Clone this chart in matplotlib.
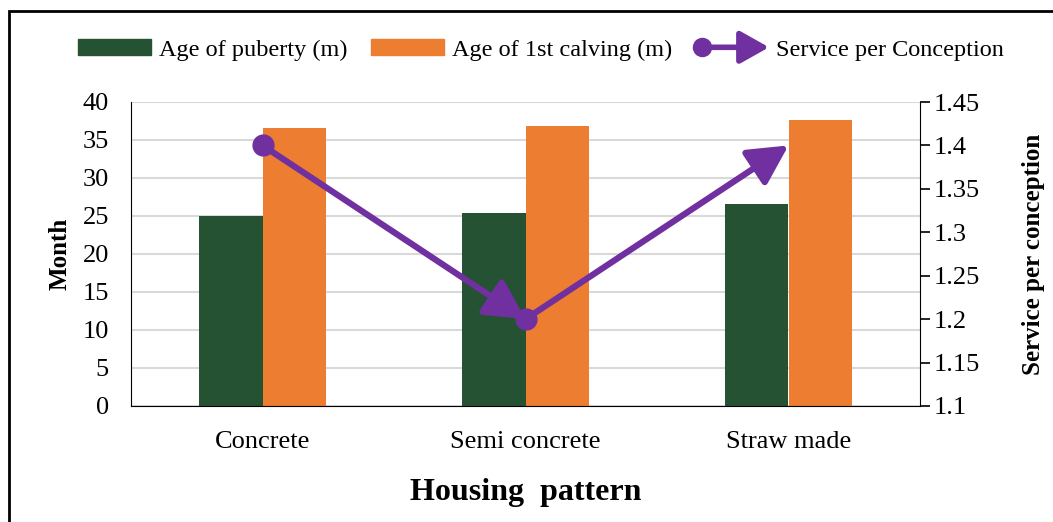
import matplotlib.pyplot as plt
import numpy as np
from matplotlib.patches import Rectangle, Patch, FancyArrowPatch
from matplotlib.lines import Line2D
from matplotlib.legend_handler import HandlerBase

plt.rcParams['font.family'] = ['Liberation Serif', 'DejaVu Serif']

# data
housing = ["Concrete", "Semi concrete", "Straw made"]
age_puberty = [25.0, 25.4, 26.6]
age_calving = [36.6, 36.8, 37.6]
service_conception = [1.4, 1.2, 1.4]

green = '#245233'
orange = '#ED7D31'
purple = '#7030A0'


class ArrowHandler(HandlerBase):
    # circle at the left, arrow head at the right, like the excel line
    def create_artists(self, legend, orig_handle, xdescent, ydescent,
                       width, height, fontsize, trans):
        y = height / 2 - ydescent
        x0 = -xdescent + 4
        x1 = -xdescent + width
        arr = FancyArrowPatch((x0, y), (x1, y), arrowstyle='-|>,head_length=0.8,head_width=0.45',
                              mutation_scale=22, color=purple, lw=4,
                              shrinkA=0, shrinkB=0, transform=trans)
        dot = Line2D([x0], [y], marker='o', markersize=13, color=purple,
                     linestyle='none', transform=trans)
        return [arr, dot]


fig = plt.figure(figsize=(10.53, 5.22), dpi=100)
ax = fig.add_axes([131 / 1053, 1 - 406 / 522, (920 - 131) / 1053, (406 - 102) / 522])
ax2 = ax.twinx()

x = np.arange(len(housing))
w = 0.24
ax.bar(x - w / 2, age_puberty, w, color=green, zorder=2)
ax.bar(x + w / 2, age_calving, w, color=orange, zorder=2)

ax.set_xlim(-0.5, 2.5)
ax.set_ylim(0, 40)
ax.set_yticks(np.arange(0, 41, 5))
ax.yaxis.grid(True, color='#d9d9d9', lw=1.5, zorder=0)
ax.set_axisbelow(True)
ax.set_xticks(x)
ax.set_xticklabels(housing)
ax.tick_params(axis='both', length=0, labelsize=19, pad=16)
ax.tick_params(axis='x', pad=18)
for s in ['top', 'right']:
    ax.spines[s].set_visible(False)
ax.spines['left'].set_color('black')
ax.spines['bottom'].set_color('black')
ax.set_ylabel('Month', fontsize=18, fontweight='bold', labelpad=8)
ax.set_xlabel('Housing  pattern', fontsize=23, fontweight='bold', labelpad=18)

# service per conception: each segment gets a dot at its start and an arrow head at its end
for i in range(len(x) - 1):
    ax2.annotate('', xy=(x[i + 1], service_conception[i + 1]),
                 xytext=(x[i], service_conception[i]),
                 arrowprops=dict(arrowstyle='-|>,head_length=0.8,head_width=0.42',
                                 color=purple, lw=4.5,
                                 mutation_scale=30, shrinkA=0, shrinkB=0))
ax2.plot(x[:-1], service_conception[:-1], 'o', color=purple, markersize=15, zorder=5)

ax2.set_ylim(1.1, 1.45)
ax2.set_yticks([1.1, 1.15, 1.2, 1.25, 1.3, 1.35, 1.4, 1.45])
ax2.set_yticklabels(['1.1', '1.15', '1.2', '1.25', '1.3', '1.35', '1.4', '1.45'])
ax2.tick_params(axis='y', length=7, width=1.2, labelsize=19, pad=3)
for s in ['top', 'left', 'bottom']:
    ax2.spines[s].set_visible(False)
ax2.spines['right'].set_color('black')
ax2.set_ylabel('Service per conception', fontsize=18, fontweight='bold', labelpad=30)

labels = ['Age of puberty (m)', 'Age of 1st calving (m)', 'Service per Conception']
fig.legend([Patch(color=green), Patch(color=orange), Line2D([], [])], labels,
           loc='center', bbox_to_anchor=(0.514, 1 - 50 / 522), ncol=3, frameon=False,
           fontsize=17.5, handlelength=3.0, handleheight=0.65, handletextpad=0.3,
           columnspacing=1.0,
           handler_map={Line2D: ArrowHandler()})

# outer frame of the original figure
fig.patches.append(Rectangle((9 / 1053, -0.2), 1.2, 1.2 - 11 / 522, transform=fig.transFigure,
                             fill=False, lw=2, ec='black'))

fig.savefig('out.png', dpi=100)
